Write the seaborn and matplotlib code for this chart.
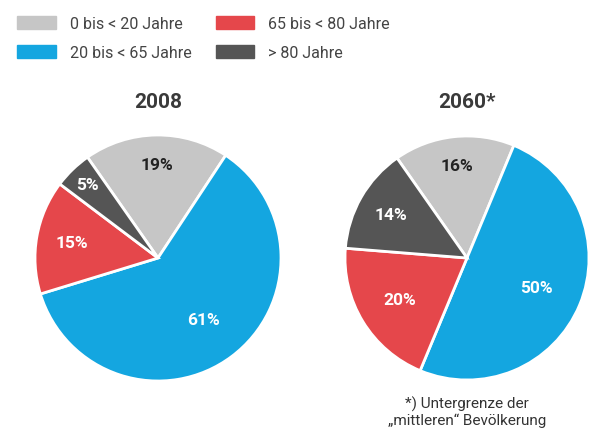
import numpy as np
import matplotlib
matplotlib.use("Agg")
import matplotlib.pyplot as plt
import matplotlib.patches as mpatches
import seaborn as sns

# data
categories = ["0 bis < 20 Jahre", "20 bis < 65 Jahre", "65 bis < 80 Jahre", "> 80 Jahre"]
years = ["2008", "2060*"]
shares_2008 = [19, 61, 15, 5]
shares_2060 = [16, 50, 20, 14]
colors = ["#c6c6c6", "#14a6e0", "#e5474b", "#555555"]
label_colors = ["#222222", "white", "white", "white"]
# how far out each percentage label sits (fraction of radius)
label_dist_2008 = [0.76, 0.62, 0.71, 0.83]
label_dist_2060 = [0.76, 0.62, 0.65, 0.72]

sns.set_theme(style="white")
plt.rcParams["font.family"] = ["Roboto", "DejaVu Sans"]

fig = plt.figure(figsize=(5.93, 4.31), dpi=100)
W, H = 593, 431


def add_pie(cx, cy, r, values, dists, title):
    ax = fig.add_axes([(cx - r) / W, (H - cy - r) / H, 2 * r / W, 2 * r / H])
    wedges, _ = ax.pie(values, colors=colors, startangle=125, counterclock=False,
                       wedgeprops=dict(edgecolor="white", linewidth=2))
    for w, v, d, tc in zip(wedges, values, dists, label_colors):
        ang = np.deg2rad((w.theta1 + w.theta2) / 2)
        ax.text(d * np.cos(ang), d * np.sin(ang), f"{v}%", ha="center", va="center",
                color=tc, fontsize=12.5, fontweight="bold")
    ax.set_xlim(-1, 1)
    ax.set_ylim(-1, 1)
    ax.set_aspect("equal")
    ax.axis("off")
    fig.text(cx / W, 1 - 103 / H, title, ha="center", va="center",
             fontsize=15, fontweight="bold", color="#3a3a3a")


add_pie(158, 259, 123, shares_2008, label_dist_2008, years[0])
add_pie(467, 259, 122, shares_2060, label_dist_2060, years[1])

handles = [mpatches.Patch(color=c) for c in colors]
fig.legend(handles, categories, ncol=2, loc="upper left", bbox_to_anchor=(0.005, 0.995),
           frameon=False, fontsize=11.5, handlelength=2.4, handleheight=0.9,
           columnspacing=1.5, labelspacing=0.9, handletextpad=0.9,
           labelcolor="#444444")

fig.text(467 / W, 1 - 412 / H, "*) Untergrenze der\n\u201emittleren\u201c Bev\u00f6lkerung",
         ha="center", va="center", fontsize=11, color="#333333", linespacing=1.15)

fig.savefig("out.png", dpi=100)
